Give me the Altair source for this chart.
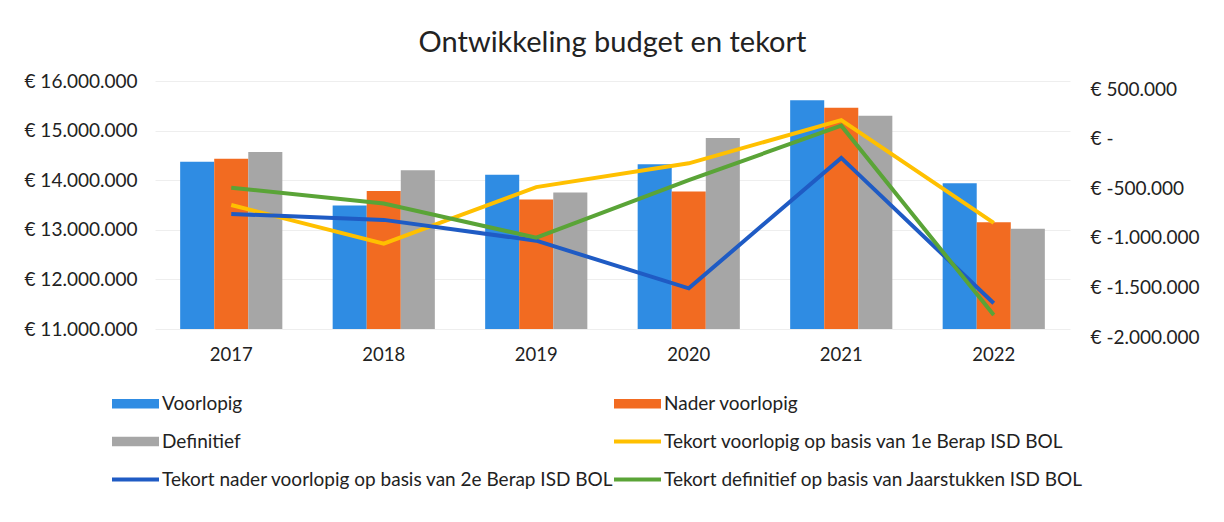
import altair as alt
import pandas as pd

years = ["2017", "2018", "2019", "2020", "2021", "2022"]

# Budget (left axis)
voorlopig = [14370000, 13490000, 14110000, 14320000, 15610000, 13940000]
nader_voorlopig = [14430000, 13780000, 13610000, 13770000, 15460000, 13150000]
definitief = [14570000, 14200000, 13750000, 14850000, 15300000, 13020000]

# Tekort (right axis)
tekort_1e_berap = [-750000, -1140000, -570000, -330000, 105000, -930000]
tekort_2e_berap = [-840000, -900000, -1110000, -1590000, -275000, -1740000]
tekort_jaarstukken = [-575000, -735000, -1080000, -500000, 50000, -1860000]

bar_series = ["Voorlopig", "Nader voorlopig", "Definitief"]
line_series = [
    "Tekort voorlopig op basis van 1e Berap ISD BOL",
    "Tekort nader voorlopig op basis van 2e Berap ISD BOL",
    "Tekort definitief op basis van Jaarstukken ISD BOL",
]
all_series = bar_series + line_series
colors = ["#2F8CE3", "#F26B21", "#A6A6A6", "#FFC000", "#1F5BC4", "#5AA437"]

left_ticks = [11000000, 12000000, 13000000, 14000000, 15000000, 16000000]
right_ticks = [-2000000, -1500000, -1000000, -500000, 0, 500000]

bar_rows = []
for name, vals in zip(bar_series, [voorlopig, nader_voorlopig, definitief]):
    for y, v in zip(years, vals):
        bar_rows.append({"jaar": y, "serie": name, "bedrag": v})
bars_df = pd.DataFrame(bar_rows)

line_rows = []
for name, vals in zip(line_series, [tekort_1e_berap, tekort_2e_berap, tekort_jaarstukken]):
    for y, v in zip(years, vals):
        line_rows.append({"jaar": y, "serie": name, "tekort": v})
lines_df = pd.DataFrame(line_rows)

BAR_PATH = "M-1,-0.2H1V0.2H-1Z"
LINE_PATH = "M-1,-0.08H1V0.08H-1Z"
shapes = [BAR_PATH] * 3 + [LINE_PATH] * 3

FONT = "Lato"
TXT = "#222222"


def color_scale():
    return alt.Scale(domain=all_series, range=colors)


x_enc = alt.X(
    "jaar:N",
    sort=years,
    scale=alt.Scale(paddingInner=0.33, paddingOuter=0.165),
    axis=alt.Axis(
        title=None, labelAngle=0, domain=False, ticks=False, labelPadding=16,
        labelFontSize=18.5, labelFont=FONT, labelColor=TXT, grid=False,
    ),
)

left_label = "'€ ' + replace(format(datum.value, ',.0f'), regexp(',', 'g'), '.')"
right_label = (
    "datum.value == 0 ? '€ -' : (datum.value < 0 ? '€ -' : '€ ') + "
    "replace(format(abs(datum.value), ',.0f'), regexp(',', 'g'), '.')"
)

bars = alt.Chart(bars_df).mark_bar().encode(
    x=x_enc,
    xOffset=alt.XOffset("serie:N", sort=bar_series, scale=alt.Scale(paddingInner=0, paddingOuter=0)),
    y=alt.Y(
        "bedrag:Q",
        scale=alt.Scale(domain=[11000000, 16000000], zero=False, nice=False),
        axis=alt.Axis(
            title=None, values=left_ticks, labelExpr=left_label, domain=False, ticks=False,
            labelPadding=18, labelFontSize=19, labelFont=FONT, labelColor=TXT,
            grid=True, gridColor="#eeeeee",
        ),
    ),
    y2=alt.datum(11000000),
    color=alt.Color("serie:N", scale=color_scale(), legend=None),
)

y_right = alt.Y(
    "tekort:Q",
    scale=alt.Scale(domain=[-2000000, 500000], zero=False, nice=False),
    axis=alt.Axis(
        orient="right", title=None, values=right_ticks, labelExpr=right_label, domain=False,
        ticks=False, labelPadding=20, labelFontSize=19, labelFont=FONT, labelColor=TXT,
        grid=False, labelOffset=8,
    ),
)

legend = alt.Legend(
    title=None, orient="none", legendX=-43, legendY=299, columns=2, direction="horizontal",
    symbolSize=2209, symbolStrokeWidth=0, labelFontSize=19, labelFont=FONT,
    labelColor=TXT, labelOffset=3, rowPadding=4, columnPadding=0, padding=0,
    labelLimit=600,
)

lines = alt.Chart(lines_df).mark_line(strokeWidth=4).encode(
    x=alt.X("jaar:N", sort=years),
    y=y_right,
    color=alt.Color("serie:N", scale=color_scale(), legend=None),
)

points = alt.Chart(lines_df).mark_point(filled=True, size=1, opacity=1).encode(
    x=alt.X("jaar:N", sort=years),
    y=alt.Y("tekort:Q"),
    color=alt.Color("serie:N", scale=color_scale(), legend=legend),
    shape=alt.Shape("serie:N", scale=alt.Scale(domain=all_series, range=shapes), legend=legend),
)

tekort_layer = alt.layer(lines, points).resolve_scale(color="independent", shape="independent")

chart = (
    alt.layer(bars, tekort_layer)
    .resolve_scale(y="independent", color="independent", shape="independent")
    .properties(
        width=915,
        height=248,
        title=alt.TitleParams(
            "Ontwikkeling budget en tekort", fontSize=29, font=FONT, fontWeight="normal",
            color=TXT, anchor="middle", offset=14,
        ),
        autosize=alt.AutoSizeParams(type="none"),
        padding={"left": 147, "top": 73, "right": 140, "bottom": 180},
        background="white",
    )
    .configure_view(stroke=None)
)

chart.save("out.html", embed_options={"renderer": "svg", "actions": False})
